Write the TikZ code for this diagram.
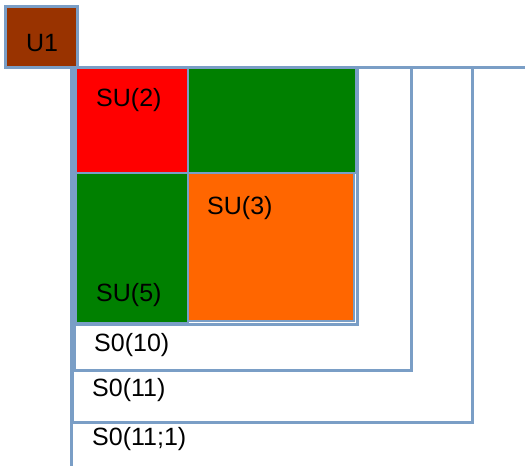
\documentclass[tikz,border=0pt]{standalone}
\usepackage{fontspec}
\setmainfont{Liberation Sans}
\definecolor{frame}{RGB}{122,158,198}
\definecolor{brownU}{RGB}{153,51,0}
\definecolor{redSU}{RGB}{255,0,0}
\definecolor{greenSU}{RGB}{0,128,0}
\definecolor{orangeSU}{RGB}{255,102,0}
\begin{document}
\begin{tikzpicture}[x=1pt,y=-1pt,
  box/.style={draw=frame,line width=3pt},
  cell/.style={draw=frame,line width=2pt},
  lbl/.style={font=\fontsize{25}{25}\selectfont,anchor=west,inner sep=0pt,text=black}]
\clip (0,0) rectangle (525,466);
\fill[white] (0,0) rectangle (525,466);
% nested frames
\draw[box] (71,67) rectangle (540,480);
\draw[box] (72,67) rectangle (472,422);
\draw[box,fill=white] (74,67) rectangle (411,370);
\draw[box] (75,67) rectangle (357,324);
% cells
\draw[cell,fill=redSU] (76,67) rectangle (188,173);
\draw[cell,fill=greenSU] (188,67) rectangle (356,173);
\draw[cell,fill=greenSU] (76,173) rectangle (188,323);
\draw[cell,fill=orangeSU] (188,173) rectangle (354,321);
\draw[box] (75,67) rectangle (357,324);
% U1
\draw[box,fill=brownU] (5,6) rectangle (77,67);
% labels
\node[lbl] (u1) at (26,43) {U1};
\node[lbl] (su2) at (96,100) {SU(2)};
\node[lbl] (su3) at (207,208) {SU(3)};
\node[lbl] (su5) at (96,295) {SU(5)};
\node[lbl] (so10) at (94,345) {S0(10)};
\node[lbl] (so11) at (92,390) {S0(11)};
\node[lbl] (so111) at (92,439) {S0(11;1)};
\end{tikzpicture}
\end{document}
